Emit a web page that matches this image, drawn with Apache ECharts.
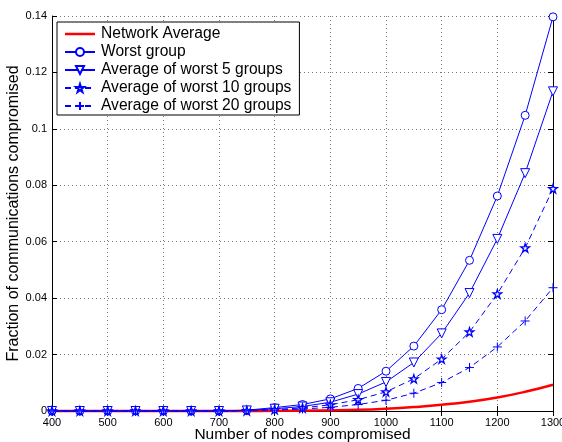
<!DOCTYPE html>
<html>
<head>
<meta charset="utf-8">
<script src="https://cdn.jsdelivr.net/npm/echarts@6/dist/echarts.min.js"></script>
<style>html,body{margin:0;padding:0;background:#fff;}#c{width:562px;height:442px;}</style>
</head>
<body>
<div id="c"></div>
<script>
var nodes = [400,450,500,550,600,650,700,750,800,850,900,950,1000,1050,1100,1150,1200,1250,1300];
var networkAvg = [0,0,0,0,0,0,0,0,0.00005,0.0001,0.0002,0.0004,0.0008,0.0014,0.0022,0.0033,0.0048,0.0068,0.0093];
var worstGroup = [0,0,0,0,0,0,0,0.0003,0.0012,0.0023,0.0043,0.0080,0.0141,0.0230,0.0359,0.0534,0.0762,0.1048,0.1397];
var worst5 = [0,0,0,0,0,0,0,0.0002,0.0008,0.0016,0.0031,0.0060,0.0103,0.0172,0.0275,0.0418,0.0610,0.0843,0.1133];
var worst10 = [0,0,0,0,0,0,0,0.0001,0.0005,0.0011,0.0022,0.0040,0.0068,0.0114,0.0184,0.0280,0.0415,0.0578,0.0788];
var worst20 = [0,0,0,0,0,0,0,0.0001,0.0003,0.0007,0.0013,0.0023,0.0038,0.0063,0.0101,0.0154,0.0227,0.0319,0.0437];
var seriesNames = ['Network Average','Worst group','Average of worst 5 groups','Average of worst 10 groups','Average of worst 20 groups'];
var xTitle = 'Number of nodes compromised';
var yTitle = 'Fraction of communications compromised';

function pairs(arr){ return nodes.map(function(x,i){ return [x, arr[i]]; }); }

var FONT = '"Liberation Sans", Arial, Helvetica, sans-serif';
var BLUE = '#0000ff';
var STAR = 'path://M50,0 L61.8,36.2 L100,36.2 L69.1,58.6 L80.9,95 L50,72.4 L19.1,95 L30.9,58.6 L0,36.2 L38.2,36.2 Z';
var PLUS = 'path://M50,0 L50,100 M0,50 L100,50';
var REDLINE = 'path://M0,0 L30,0 L30,2.5 L0,2.5 Z';

var chart = echarts.init(document.getElementById('c'), null, {renderer:'canvas'});
var gridLine = {show:true, lineStyle:{color:'#777', type:[1,3], width:1}};
var axisLine = {show:true, lineStyle:{color:'#000', width:1}};
var tick = {show:true, inside:true, length:5, lineStyle:{color:'#000'}};

var legendData = seriesNames.map(function(n, i){
  return i === 0 ? {name:n, icon:REDLINE} : {name:n};
});

var option = {
  animation:false,
  backgroundColor:'#fff',
  textStyle:{fontFamily:FONT},
  grid:{left:52, right:9, top:16, bottom:31, containLabel:false, outerBoundsMode:'none'},
  legend:{
    orient:'vertical', left:57, top:22,
    backgroundColor:'#fff', borderColor:'#000', borderWidth:1,
    padding:[4,8,1,7], itemGap:2, itemWidth:30, itemHeight:10,
    textStyle:{fontFamily:FONT, fontSize:15.6, lineHeight:15, color:'#000', padding:[0,0,0,1]},
    data:legendData
  },
  xAxis:[{
    type:'value', min:400, max:1300, interval:100, position:'bottom',
    name:xTitle, nameLocation:'middle', nameGap:16, nameMoveOverlap:false,
    nameTextStyle:{fontFamily:FONT, fontSize:15.5, color:'#000'},
    axisLine:axisLine, axisTick:tick, splitLine:gridLine,
    axisLabel:{fontFamily:FONT, fontSize:11, color:'#000', margin:6, formatter:function(v){return String(v);}}
  },{
    type:'value', min:400, max:1300, interval:100, position:'top',
    axisLine:axisLine, axisTick:tick, splitLine:{show:false}, axisLabel:{show:false}
  }],
  yAxis:[{
    type:'value', min:0, max:0.14, interval:0.02, position:'left',
    name:yTitle, nameLocation:'middle', nameGap:30, nameMoveOverlap:false,
    nameTextStyle:{fontFamily:FONT, fontSize:16, color:'#000'},
    axisLine:axisLine, axisTick:tick, splitLine:gridLine,
    axisLabel:{fontFamily:FONT, fontSize:11, color:'#000', margin:5}
  },{
    type:'value', min:0, max:0.14, interval:0.02, position:'right',
    axisLine:axisLine, axisTick:tick, splitLine:{show:false}, axisLabel:{show:false}
  }],
  series:[
    {name:seriesNames[0], type:'line', data:pairs(networkAvg), symbol:'none', smooth:true, clip:false,
     lineStyle:{color:'#ff0000', width:2.5}, itemStyle:{color:'#ff0000'}},
    {name:seriesNames[1], type:'line', data:pairs(worstGroup), symbol:'circle', symbolSize:8, clip:false,
     lineStyle:{color:BLUE, width:1}, itemStyle:{color:'#fff', borderColor:BLUE, borderWidth:1}},
    {name:seriesNames[2], type:'line', data:pairs(worst5), symbol:'triangle', symbolRotate:180, symbolSize:9, clip:false,
     lineStyle:{color:BLUE, width:1}, itemStyle:{color:'#fff', borderColor:BLUE, borderWidth:1}},
    {name:seriesNames[3], type:'line', data:pairs(worst10), symbol:STAR, symbolSize:8.5, clip:false,
     lineStyle:{color:BLUE, width:1, type:[6,4]}, itemStyle:{color:'#fff', borderColor:BLUE, borderWidth:1.3}},
    {name:seriesNames[4], type:'line', data:pairs(worst20), symbol:PLUS, symbolSize:9, clip:false,
     lineStyle:{color:BLUE, width:1, type:[6,4]}, itemStyle:{color:BLUE, borderColor:BLUE, borderWidth:1}}
  ]
};
chart.setOption(option);
</script>
</body>
</html>
